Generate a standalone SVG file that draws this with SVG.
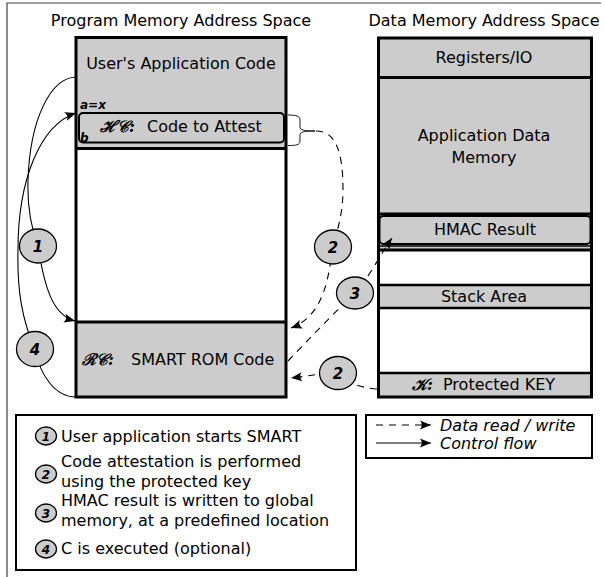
<svg xmlns="http://www.w3.org/2000/svg" width="605" height="577" viewBox="0 0 605 577">
<style>
text{font-family:"DejaVu Sans","Liberation Sans",sans-serif;fill:#000}
.t16{font-size:16px}
.mid{text-anchor:middle}
.g{fill:#cccccc}
.frame{fill:none;stroke:#000;stroke-width:3}
.sep{stroke:#000;stroke-width:3}
.num{font-size:15px;font-weight:bold;font-style:italic;text-anchor:middle}
.lab{font-size:12px;font-weight:bold;font-style:italic}
.scr{font-family:"DejaVu Serif","Liberation Serif",serif;font-style:italic;font-weight:bold}
.circ{fill:#cccccc;stroke:#000;stroke-width:1.3}
.ctrl{fill:none;stroke:#000;stroke-width:1.1}
.data{fill:none;stroke:#000;stroke-width:1.1;stroke-dasharray:7,6}
.leg{fill:#fff;stroke:#000;stroke-width:2}
</style>
<defs>
<marker id="ah" markerUnits="userSpaceOnUse" markerWidth="14" markerHeight="12" viewBox="-12 -6 14 12" refX="0" refY="0" orient="auto">
<path d="M0,0 L-11,-4.5 Q-7.5,0 -11,4.5 Z" fill="#000"/>
</marker>
</defs>
<rect width="605" height="577" fill="#fff"/>
<path d="M7,577 V3 H601" fill="none" stroke="#444" stroke-width="1.2"/>

<text class="t16 mid" x="181" y="26">Program Memory Address Space</text>
<text class="t16 mid" x="484" y="26">Data Memory Address Space</text>

<g id="program-memory">
<rect x="76" y="37.5" width="210" height="111" class="g"/>
<rect x="76" y="322" width="210" height="75" class="g"/>
<line x1="76" y1="148.5" x2="286" y2="148.5" class="sep"/>
<line x1="76" y1="322" x2="286" y2="322" class="sep"/>
<rect x="76" y="37.5" width="210" height="359.5" class="frame"/>
<text class="t16 mid" x="181" y="69">User's Application Code</text>
<text class="lab" x="80" y="109">a=x</text>
</g>
<g id="hc">
<rect x="79" y="113" width="205" height="29.5" rx="4" class="g" stroke="#000" stroke-width="2"/>
<text class="t16" x="100" y="132"><tspan class="scr">ℋ𝒞:</tspan></text>
<text class="t16" x="147" y="132">Code to Attest</text>
<text class="lab" x="80" y="142">b</text>
</g>
<g id="rc">
<text class="t16" x="82" y="365"><tspan class="scr">ℛ𝒞:</tspan></text>
<text class="t16" x="131" y="365">SMART ROM Code</text>
</g>

<g id="data-memory">
<rect x="378.5" y="38" width="213" height="39.5" class="g"/>
<rect x="378.5" y="77.5" width="213" height="172.5" class="g"/>
<rect x="378.5" y="285" width="213" height="23" class="g"/>
<rect x="378.5" y="373" width="213" height="24" class="g"/>
<line x1="378.5" y1="77.5" x2="591.5" y2="77.5" class="sep"/>
<line x1="378.5" y1="214" x2="591.5" y2="214" class="sep"/>
<line x1="378.5" y1="250" x2="591.5" y2="250" class="sep"/>
<line x1="378.5" y1="246" x2="591.5" y2="246" stroke="#000" stroke-width="1.5"/>
<line x1="378.5" y1="285" x2="591.5" y2="285" stroke="#000" stroke-width="2.5"/>
<line x1="378.5" y1="308" x2="591.5" y2="308" stroke="#000" stroke-width="2.5"/>
<line x1="378.5" y1="373" x2="591.5" y2="373" stroke="#000" stroke-width="2.5"/>
<rect x="378.5" y="38" width="213" height="359" class="frame"/>
<text class="t16 mid" x="484" y="63">Registers/IO</text>
<text class="t16 mid" x="484" y="141">Application Data</text>
<text class="t16 mid" x="484" y="163">Memory</text>
<text class="t16 mid" x="484" y="302">Stack Area</text>
</g>
<g id="hmac">
<rect x="379.5" y="216" width="211" height="28" rx="4" class="g" stroke="#000" stroke-width="2"/>
<text class="t16 mid" x="485" y="235">HMAC Result</text>
</g>
<g id="key">
<text class="t16" x="412" y="390"><tspan class="scr">𝒦:</tspan></text>
<text class="t16" x="443" y="390">Protected KEY</text>
</g>

<g id="connectors">
<path class="ctrl" d="M76,77 C50,78 30,120 28,180 C27,210 32,230 38,246 C44,285 52,315 75,321" marker-end="url(#ah)"/>
<path class="ctrl" d="M76,397 C55,397 40,375 35,349 C22,320 17,290 18,250 C18,180 40,125 76,113" marker-end="url(#ah)"/>
<path d="M288,115 C296,115 300,116 300,120 L300,127 C300,130 304,131 315,131 C304,131 300,132 300,135 L300,141 C300,145 296,145.5 288,145.5" fill="none" stroke="#000" stroke-width="0.9"/>
<path class="data" d="M316,131 C335,131 343,150 343,190 C343,215 336,235 332,250 C328,290 318,318 291,328" marker-end="url(#ah)"/>
<path class="data" d="M288,361 C310,338 332,315 355,293 C370,276 380,255 392,238" marker-end="url(#ah)"/>
<path class="data" d="M377,389 C360,388 348,382 338,375 C325,372 310,376 291,378" marker-end="url(#ah)"/>
</g>

<g id="label-1"><ellipse cx="38" cy="246" rx="18.5" ry="17" class="circ"/><text class="num" x="38" y="252">1</text></g>
<g id="label-4"><ellipse cx="35" cy="349" rx="18.5" ry="17.5" class="circ"/><text class="num" x="35" y="355">4</text></g>
<g id="label-2a"><ellipse cx="333" cy="247" rx="18.5" ry="17" class="circ"/><text class="num" x="333" y="253">2</text></g>
<g id="label-3"><ellipse cx="355" cy="293" rx="18.5" ry="16" class="circ"/><text class="num" x="355" y="299">3</text></g>
<g id="label-2b"><ellipse cx="338" cy="373" rx="18.5" ry="16.5" class="circ"/><text class="num" x="338" y="379">2</text></g>

<g id="legend-steps">
<rect x="16" y="415" width="340" height="155" class="leg"/>
<ellipse cx="46" cy="436" rx="10.5" ry="9" class="circ"/><text class="num" x="46" y="441" style="font-size:12px">1</text>
<text class="t16" x="61" y="442">User application starts SMART</text>
<ellipse cx="46" cy="474" rx="10.5" ry="9" class="circ"/><text class="num" x="46" y="479" style="font-size:12px">2</text>
<text class="t16" x="61" y="467">Code attestation is performed</text>
<text class="t16" x="61" y="487">using the protected key</text>
<ellipse cx="46" cy="513" rx="10.5" ry="9" class="circ"/><text class="num" x="46" y="518" style="font-size:12px">3</text>
<text class="t16" x="61" y="506">HMAC result is written to global</text>
<text class="t16" x="61" y="526">memory, at a predefined location</text>
<ellipse cx="46" cy="549" rx="10.5" ry="9" class="circ"/><text class="num" x="46" y="554" style="font-size:12px">4</text>
<text class="t16" x="61" y="554">C is executed (optional)</text>
</g>

<g id="legend-lines">
<rect x="366" y="415" width="226" height="43" class="leg"/>
<path class="data" d="M376,425 H431" marker-end="url(#ah)"/>
<text class="t16" x="440" y="431" font-style="italic">Data read / write</text>
<path class="ctrl" d="M376,443 H431" marker-end="url(#ah)"/>
<text class="t16" x="440" y="449" font-style="italic">Control flow</text>
</g>
</svg>
